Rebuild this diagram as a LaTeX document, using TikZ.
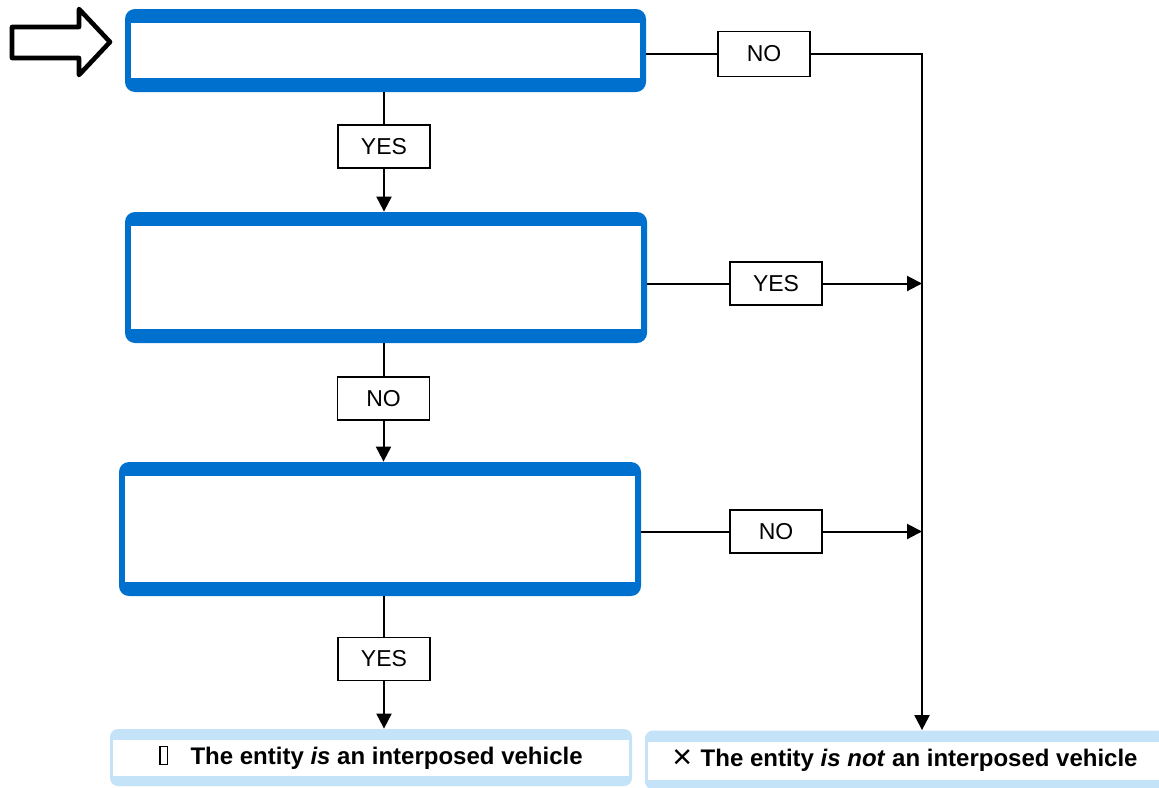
\documentclass[tikz,border=0pt]{standalone}
\usepackage{fontspec}
\setmainfont{Liberation Sans}
\usetikzlibrary{arrows.meta}
\definecolor{qblue}{RGB}{0,112,206}
\definecolor{endblue}{RGB}{197,227,248}
\newcommand{\missingmark}{{\fboxsep=0pt\fboxrule=0.6pt\fbox{\rule{0pt}{8.5pt}\hspace{3pt}}}}

\begin{document}
\begin{tikzpicture}[
  x=0.5pt, y=-0.5pt,
  question/.style={fill=qblue, rounded corners=5pt, inner sep=0pt,
    path picture={\fill[white, sharp corners]
      ([xshift=2.8pt,yshift=-7pt]path picture bounding box.north west) rectangle
      ([xshift=-2.8pt,yshift=7pt]path picture bounding box.south east);}},
  answer/.style={draw, line width=0.6pt, fill=white, inner sep=0pt,
    minimum width=46pt, minimum height=21.5pt,
    font=\fontsize{11.5}{13}\selectfont},
  outcome/.style={fill=endblue, rounded corners=4pt, inner sep=0pt,
    minimum height=28.5pt, font=\bfseries\fontsize{12}{14}\selectfont,
    path picture={\fill[white, sharp corners]
      ([xshift=1.5pt,yshift=-5.5pt]path picture bounding box.north west) rectangle
      ([xshift=-1.5pt,yshift=5pt]path picture bounding box.south east);}},
  flow/.style={line width=1pt},
  >={Triangle[length=7.5pt,width=7.5pt]}
]
  \useasboundingbox (0,0) rectangle (1159,787);
  \clip (0,0) rectangle (1159,787);

  \node[question, minimum width=260.5pt, minimum height=41.5pt] (q1) at (385.5,50.5) {};
  \node[question, minimum width=261pt, minimum height=65.5pt] (q2) at (386,277.5) {};
  \node[question, minimum width=261pt, minimum height=67pt] (q3) at (380,529) {};

  \node[answer] (a1) at (384,146.5) {YES};
  \node[answer, minimum height=22.5pt] (a2) at (764,54) {NO};
  \node[answer] (a3) at (776,283.5) {YES};
  \node[answer] (a4) at (383.5,398.5) {NO};
  \node[answer] (a5) at (776,531.5) {NO};
  \node[answer] (a6) at (384,659) {YES};

  \node[outcome, minimum width=261pt] (yes) at (371,757.5)
    {\missingmark\hspace{0.95em}The entity \textit{is} an interposed vehicle};
  \node[outcome, minimum width=260pt, minimum height=29.5pt] (no) at (905,760)
    {\raisebox{-1.2pt}{\mdseries\fontsize{17}{17}\selectfont ×}\hspace{0.35em}The entity \textit{is not} an interposed vehicle};

  \coordinate (rail) at (922,54);

  \draw[line width=2.3pt, line join=round]
    (12,27) -- (79,27) -- (79,9) -- (110,42) -- (79,75) -- (79,58) -- (12,58) -- cycle;

  \draw[flow,->] (q1.south -| a1) -- (a1) -- (a1 |- q2.north);
  \draw[flow,->] (q2.south -| a4) -- (a4) -- (a4 |- q3.north);
  \draw[flow,->] (q3.south -| a6) -- (a6) -- (a6 |- yes.north);

  \draw[flow,->] (q1.east |- rail) -- (a2) -- (rail) -- (rail |- no.north);
  \draw[flow,->] (q2.east |- a3) -- (a3) -- (rail |- a3);
  \draw[flow,->] (q3.east |- a5) -- (a5) -- (rail |- a5);
\end{tikzpicture}
\end{document}
